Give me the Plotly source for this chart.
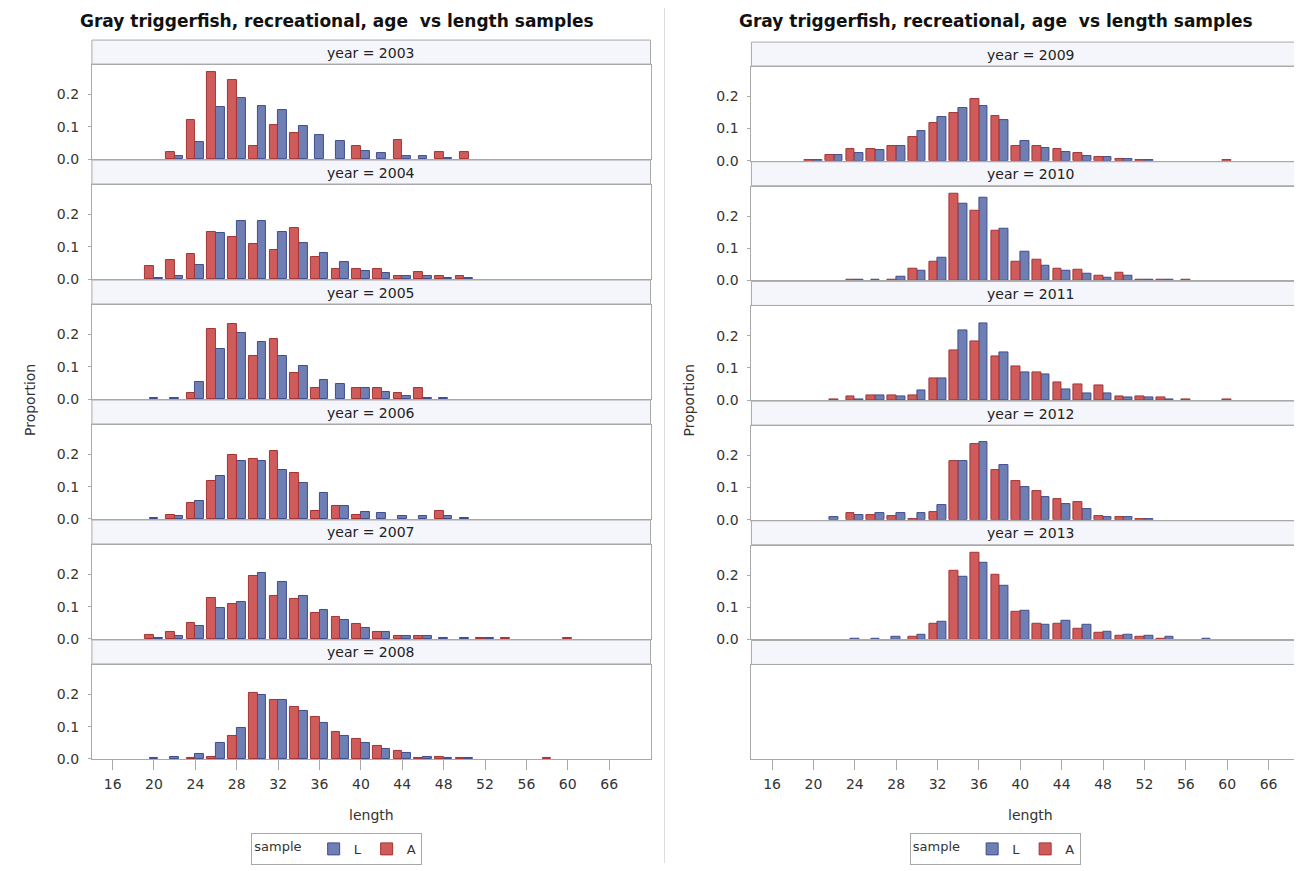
import plotly.graph_objects as go

N = None
lengths = [16, 18, 20, 22, 24, 26, 28, 30, 32, 34, 36, 38, 40, 42, 44, 46, 48, 50, 52, 54, 56, 58, 60]
categories = ["16", "18", "20", "22", "24", "26", "28", "30", "32", "34", "36", "38", "40", "42",
              "44", "46", "48", "50", "52", "54", "56", "58", "60", "62", "66"]
tick_labels = ["16", "20", "24", "28", "32", "36", "40", "44", "48", "52", "56", "60", "66"]
y_tick_values = [0.0, 0.1, 0.2]
y_tick_labels = ["0.0", "0.1", "0.2"]

left_years = [2003, 2004, 2005, 2006, 2007, 2008]
right_years = [2009, 2010, 2011, 2012, 2013]

# proportion by length (16..60 step 2); None = no bar
L_2003 = [N, N, N, 0.008, 0.052, 0.160, 0.190, 0.164, 0.151, 0.103, 0.073, 0.056, 0.026, 0.017, 0.008, 0.008, 0.004, N, N, N, N, N, N]
A_2003 = [N, N, N, 0.022, 0.121, 0.268, 0.246, 0.039, 0.104, 0.082, N, N, 0.039, N, 0.060, N, 0.022, 0.022, N, N, N, N, N]
L_2004 = [N, N, 0.004, 0.008, 0.043, 0.143, 0.181, 0.181, 0.147, 0.112, 0.082, 0.052, 0.026, 0.017, 0.008, 0.008, 0.004, 0.004, N, N, N, N, N]
A_2004 = [N, N, 0.039, 0.060, 0.078, 0.147, 0.130, 0.108, 0.091, 0.159, 0.069, 0.030, 0.030, 0.030, 0.008, 0.022, 0.008, 0.008, N, N, N, N, N]
L_2005 = [N, N, 0.004, 0.004, 0.052, 0.155, 0.203, 0.177, 0.133, 0.103, 0.060, 0.047, 0.034, 0.021, 0.008, 0.004, 0.004, N, N, N, N, N, N]
A_2005 = [N, N, N, N, 0.017, 0.216, 0.233, 0.133, 0.185, 0.082, 0.034, N, 0.034, 0.034, 0.017, 0.034, N, N, N, N, N, N, N]
L_2006 = [N, N, 0.004, 0.008, 0.056, 0.133, 0.181, 0.181, 0.151, 0.111, 0.082, 0.039, 0.022, 0.017, 0.008, 0.008, 0.008, 0.004, N, N, N, N, N]
A_2006 = [N, N, N, 0.0125, 0.051, 0.117, 0.199, 0.185, 0.211, 0.143, 0.026, 0.039, 0.0125, N, N, N, 0.026, N, N, N, N, N, N]
L_2007 = [N, N, 0.004, 0.008, 0.039, 0.095, 0.116, 0.205, 0.176, 0.132, 0.090, 0.059, 0.033, 0.021, 0.008, 0.008, 0.004, 0.004, 0.004, N, N, N, N]
A_2007 = [N, N, 0.0125, 0.021, 0.051, 0.128, 0.107, 0.194, 0.133, 0.125, 0.081, 0.068, 0.046, 0.021, 0.008, 0.008, N, N, 0.004, 0.004, N, N, 0.004]
L_2008 = [N, N, 0.003, 0.007, 0.015, 0.050, 0.097, 0.197, 0.183, 0.149, 0.110, 0.071, 0.050, 0.032, 0.019, 0.007, 0.003, 0.003, N, N, N, N, N]
A_2008 = [N, N, N, N, 0.003, 0.007, 0.071, 0.205, 0.183, 0.161, 0.131, 0.084, 0.0625, 0.041, 0.024, 0.003, 0.007, 0.003, N, N, N, 0.003, N]
L_2009 = [N, N, 0.003, 0.019, 0.024, 0.032, 0.045, 0.092, 0.135, 0.165, 0.169, 0.126, 0.062, 0.040, 0.028, 0.0145, 0.010, 0.006, 0.003, N, N, N, N]
A_2009 = [N, N, 0.003, 0.019, 0.036, 0.036, 0.045, 0.075, 0.118, 0.148, 0.191, 0.139, 0.045, 0.045, 0.036, 0.024, 0.010, 0.006, 0.003, N, N, N, 0.003]
L_2010 = [N, N, N, N, 0.003, 0.003, 0.011, 0.029, 0.0715, 0.238, 0.256, 0.162, 0.089, 0.0455, 0.029, 0.020, 0.007, 0.0155, 0.003, 0.003, N, N, N]
A_2010 = [N, N, N, N, 0.003, N, 0.003, 0.037, 0.059, 0.268, 0.218, 0.153, 0.059, 0.063, 0.037, 0.033, 0.0155, 0.025, 0.003, 0.003, 0.003, N, N]
L_2011 = [N, N, N, N, 0.003, 0.0155, 0.011, 0.029, 0.067, 0.218, 0.238, 0.149, 0.085, 0.081, 0.033, 0.020, 0.020, 0.007, 0.007, 0.003, N, N, N]
A_2011 = [N, N, N, 0.003, 0.011, 0.0155, 0.0155, 0.0155, 0.067, 0.153, 0.183, 0.136, 0.106, 0.085, 0.055, 0.050, 0.0455, 0.011, 0.011, 0.007, 0.003, N, 0.003]
L_2012 = [N, N, N, 0.007, 0.0155, 0.020, 0.020, 0.020, 0.0455, 0.183, 0.2425, 0.171, 0.1015, 0.0715, 0.050, 0.033, 0.007, 0.007, 0.003, N, N, N, N]
A_2012 = [N, N, N, N, 0.020, 0.0155, 0.011, 0.003, 0.024, 0.183, 0.235, 0.153, 0.119, 0.089, 0.063, 0.055, 0.011, 0.007, 0.003, N, N, N, N]
L_2013 = [N, N, N, N, 0.003, 0.003, 0.007, 0.0155, 0.055, 0.196, 0.238, 0.166, 0.089, 0.0455, 0.059, 0.0455, 0.024, 0.0155, 0.011, 0.007, N, 0.003, N]
A_2013 = [N, N, N, N, N, N, N, 0.007, 0.050, 0.2135, 0.268, 0.200, 0.085, 0.050, 0.050, 0.033, 0.020, 0.011, 0.007, 0.003, N, N, N]

data_L = {2003: L_2003, 2004: L_2004, 2005: L_2005, 2006: L_2006, 2007: L_2007, 2008: L_2008,
          2009: L_2009, 2010: L_2010, 2011: L_2011, 2012: L_2012, 2013: L_2013}
data_A = {2003: A_2003, 2004: A_2004, 2005: A_2005, 2006: A_2006, 2007: A_2007, 2008: A_2008,
          2009: A_2009, 2010: A_2010, 2011: A_2011, 2012: A_2012, 2013: A_2013}

title_text = "Gray triggerfish, recreational, age\u00a0 vs length samples"

# ---------------- styling / layout ----------------
SCREEN_W, SCREEN_H = 1302, 871
BODY = 8                      # default page margin around the plot div
SY = 871.0 / 879.0            # observed vertical scale of the page capture
W, H = SCREEN_W - BODY, 863
FONT = "DejaVu Sans"
FRAME = "#A9A9A9"
STRIP_FILL = "#F4F6FC"
BLUE, BLUE_LINE = "#6F7EB3", "#3F4D8E"
RED, RED_LINE = "#D05B5B", "#A33434"
BAR_W = 0.42                  # in category units
PX_PER_CAT = (651 - 92) / 27.0


def fx(px):
    return (px - BODY) / W


def fy(py):
    return 1 - (py / SY - BODY) / H


x_labels = [str(v) for v in lengths]

charts = [
    dict(years=list(left_years), x0=92, x1=651, top=40, pitch=120.0, center=337, ylab_x=30, legend="legend"),
    dict(years=list(right_years) + [None], x0=752, x1=1302, top=42, pitch=119.7, center=997, ylab_x=690,
         legend="legend2"),
]

fig = go.Figure()
shapes, annotations = [], []
layout_axes = {}
ax_i = 0

for ch in charts:
    xr = [-1, -1 + (ch["x1"] - ch["x0"]) / PX_PER_CAT]
    full_center = ch["x0"] + 559 / 2
    nrows = len(ch["years"])
    for k, yr in enumerate(ch["years"]):
        ax_i += 1
        top = ch["top"] + k * ch["pitch"]
        strip_bot = top + 24
        plot_top = top + 25
        plot_bot = ch["top"] + (k + 1) * ch["pitch"] - 1
        last = (k == nrows - 1)
        xname = "xaxis" if ax_i == 1 else f"xaxis{ax_i}"
        yname = "yaxis" if ax_i == 1 else f"yaxis{ax_i}"
        xref = "x" if ax_i == 1 else f"x{ax_i}"
        yref = "y" if ax_i == 1 else f"y{ax_i}"
        layout_axes[xname] = dict(
            type="category", categoryorder="array", categoryarray=categories,
            domain=[fx(ch["x0"]), min(1.0, fx(ch["x1"]))], anchor=yref, range=xr,
            showgrid=False, zeroline=False, showline=True, mirror=True,
            linecolor=FRAME, linewidth=1,
            tickmode="array", tickvals=tick_labels, ticktext=tick_labels,
            showticklabels=last, ticks="outside" if last else "", ticklen=10,
            ticklabelstandoff=2,
            tickcolor=FRAME, tickfont=dict(family=FONT, size=14, color="#333"),
            fixedrange=True,
        )
        layout_axes[yname] = dict(
            domain=[fy(plot_bot), fy(plot_top)], anchor=xref, range=[0, 0.291],
            showgrid=False, zeroline=False, showline=True, mirror=True,
            linecolor=FRAME, linewidth=1,
            tickvals=y_tick_values, ticktext=y_tick_labels,
            showticklabels=yr is not None, ticks="outside" if yr is not None else "",
            ticklen=3, ticklabelstandoff=6, tickcolor=FRAME,
            tickfont=dict(family=FONT, size=14, color="#333"),
            fixedrange=True,
        )
        # strip header
        shapes.append(dict(type="rect", xref="paper", yref="paper",
                           x0=fx(ch["x0"]), x1=min(1.0, fx(ch["x1"])),
                           y0=fy(strip_bot), y1=fy(top),
                           fillcolor=STRIP_FILL, line=dict(color=FRAME, width=1), layer="below"))
        if yr is not None:
            annotations.append(dict(xref="paper", yref="paper", x=fx(full_center),
                                    y=fy(top + 12.5), xanchor="center", yanchor="middle",
                                    text=f"year = {yr}", showarrow=False,
                                    font=dict(family=FONT, size=14, color="#222")))
            Lv, Av = data_L[yr], data_A[yr]
            offL = [(-BAR_W / 2 if a is None else 0.0) for a in Av]
            offA = [(-BAR_W / 2 if l is None else -BAR_W) for l in Lv]
            first = (k == 0)
            fig.add_trace(go.Bar(x=x_labels, y=Lv, width=BAR_W, offset=offL, name="L",
                                 marker=dict(color=BLUE, line=dict(color=BLUE_LINE, width=1)),
                                 xaxis=xref, yaxis=yref, showlegend=first, legend=ch["legend"],
                                 hoverinfo="skip"))
            fig.add_trace(go.Bar(x=x_labels, y=Av, width=BAR_W, offset=offA, name="A",
                                 marker=dict(color=RED, line=dict(color=RED_LINE, width=1)),
                                 xaxis=xref, yaxis=yref, showlegend=first, legend=ch["legend"],
                                 hoverinfo="skip"))
        else:
            fig.add_trace(go.Bar(x=[], y=[], xaxis=xref, yaxis=yref, showlegend=False))

    annotations.append(dict(xref="paper", yref="paper", x=fx(ch["center"]), y=fy(21),
                            xanchor="center", yanchor="middle", showarrow=False,
                            text="<b>" + title_text + "</b>",
                            font=dict(family=FONT, size=17, color="#111")))
    annotations.append(dict(xref="paper", yref="paper", x=fx(full_center), y=fy(815),
                            xanchor="center", yanchor="middle", showarrow=False, text="length",
                            font=dict(family=FONT, size=14, color="#333")))
    annotations.append(dict(xref="paper", yref="paper", x=fx(ch["ylab_x"]), y=fy(400),
                            xanchor="center", yanchor="middle", showarrow=False, text="Proportion",
                            textangle=-90, font=dict(family=FONT, size=14, color="#333")))

# separator between the two graphs
shapes.append(dict(type="line", xref="paper", yref="paper", x0=fx(665), x1=fx(665), y0=0, y1=1,
                   line=dict(color="#DCDCDC", width=1)))

legend_common = dict(orientation="h", yanchor="middle", y=fy(849), xanchor="center",
                     title=dict(text="sample ", side="left", font=dict(family=FONT, size=13, color="#333")),
                     bordercolor=FRAME, borderwidth=1, bgcolor="white",
                     font=dict(family=FONT, size=13, color="#333"), itemwidth=30, traceorder="normal",
                     tracegroupgap=0)

fig.update_layout(
    width=W, height=H, margin=dict(l=0, r=0, t=0, b=0),
    paper_bgcolor="white", plot_bgcolor="white",
    barmode="overlay", bargap=0,
    shapes=shapes, annotations=annotations,
    legend=dict(legend_common, x=fx(337)),
    legend2=dict(legend_common, x=fx(996)),
    **layout_axes,
)

fig.write_html("out.html")
